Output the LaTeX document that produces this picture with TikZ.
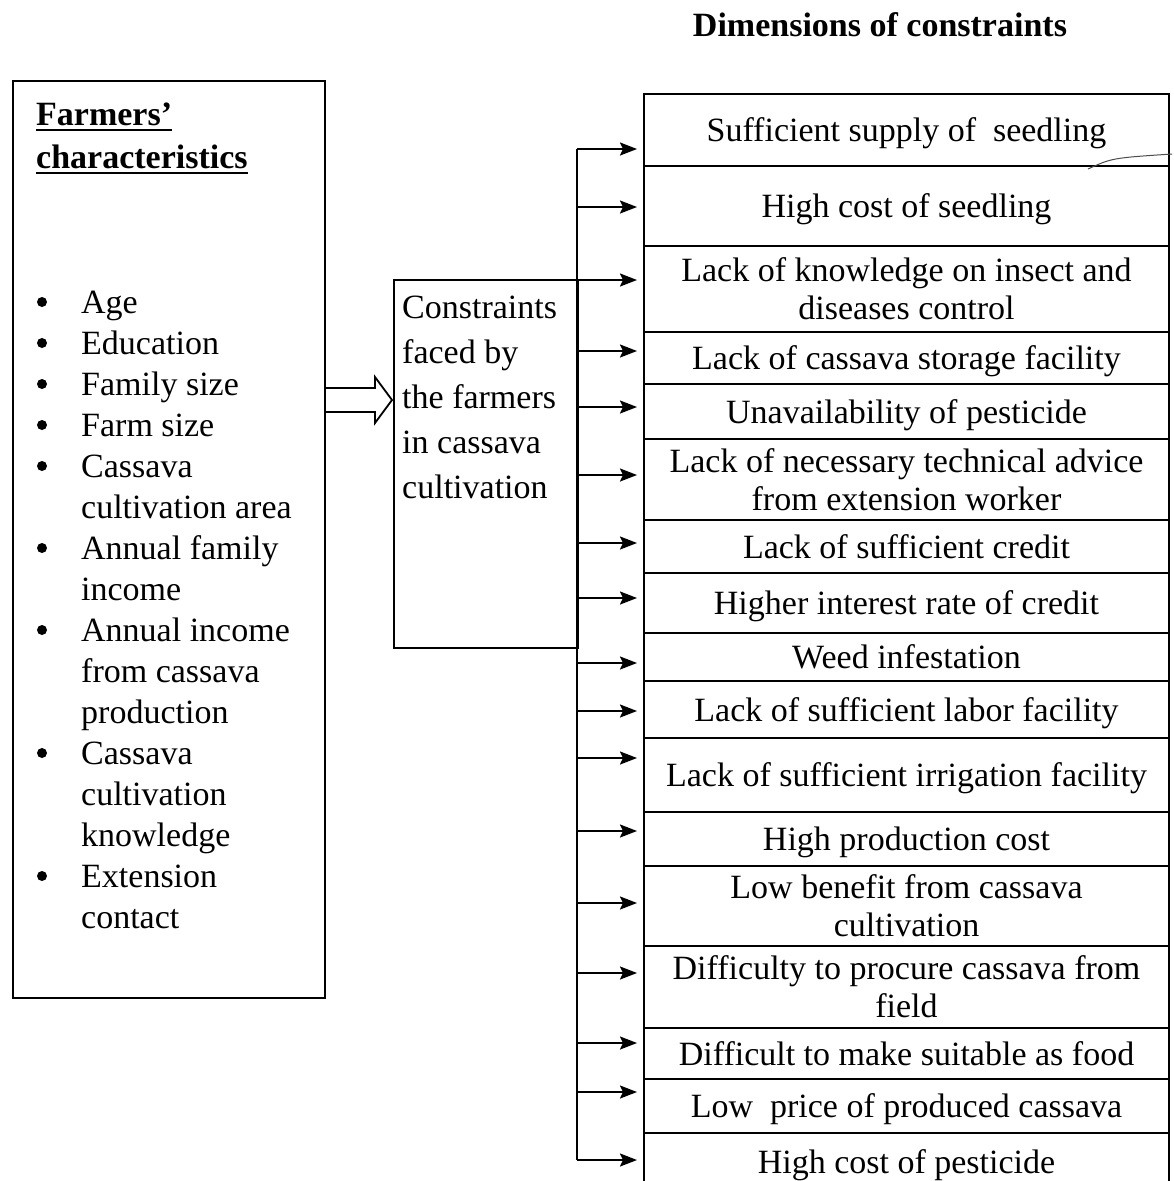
\documentclass[tikz,border=0pt]{standalone}
\usepackage{fontspec}
\setmainfont{Liberation Serif}
\usetikzlibrary{arrows.meta}
\begin{document}
\begin{tikzpicture}[x=1pt,y=-1pt,
  txt/.style={font=\fontsize{34}{38}\selectfont},
  bold/.style={font=\fontsize{34}{38}\selectfont\bfseries},
  box/.style={draw,line width=2pt,inner sep=0pt},
  rowbox/.style={draw,line width=2pt,anchor=north west,minimum width=525pt,align=center,inner sep=0pt,text depth=0pt,txt},
  conn/.style={line width=2pt},
  arr/.style={line width=2pt,shorten >=6pt,-{Stealth[length=17pt,width=13pt,inset=3pt]}},
  lbl/.style={anchor=base west,inner sep=0pt,txt},
  dot/.style={circle,fill=black,inner sep=0pt,minimum size=10pt},
]
\useasboundingbox (0,0) rectangle (1173,1181);
\fill[white] (0,0) rectangle (1173,1181);

% title
\node[anchor=base,inner sep=0pt,bold] (title) at (880,36) {Dimensions of constraints};

% left box
\node[box,anchor=north west,minimum width=312pt,minimum height=917pt] (lbox) at (12,80) {};
\node[anchor=base west,inner sep=0pt,bold] (f1) at (36,125) {Farmers’};
\node[anchor=base west,inner sep=0pt,bold] (f2) at (36,168) {characteristics};
\draw[line width=2.2pt] ([yshift=-5pt]f1.base west) -- ([yshift=-5pt]f1.base east);
\draw[line width=2.2pt] ([yshift=-5pt]f2.base west) -- ([yshift=-5pt]f2.base east);
\foreach \t/\b [count=\i from 0] in {Age/1, Education/1, Family size/1, Farm size/1, Cassava/1, cultivation area/0, Annual family/1, income/0, Annual income/1, from cassava/0, production/0, Cassava/1, cultivation/0, knowledge/0, Extension/1, contact/0} {
  \node[lbl] (L\i) at (81,{313+41*\i}) {\t};
  \ifnum\b=1 \node[dot] (B\i) at (42,{302+41*\i}) {};\fi
}

% middle box
\node[box,anchor=north west,minimum width=184pt,minimum height=368pt] (mid) at (393,279) {};
\foreach \t [count=\i from 0] in {Constraints, faced by, the farmers, in cassava, cultivation} {
  \node[lbl] (M\i) at (402,{318+45*\i}) {\t};
}

% hollow arrow
\coordinate (hA) at (324,400);
\coordinate (hB) at (392,400);
\draw[line width=1.8pt,line join=miter] ([yshift=12pt]hA) -- ([xshift=-17pt,yshift=12pt]hB) -- ([xshift=-17pt,yshift=23pt]hB) -- (hB) -- ([xshift=-17pt,yshift=-23pt]hB) -- ([xshift=-17pt,yshift=-12pt]hB) -- ([yshift=-12pt]hA);

% right column
\node[rowbox,minimum height=72pt] (r1) at (643,93) {Sufficient supply of\ \ seedling};
\node[rowbox,minimum height=80pt] (r2) at (643,165) {High cost of seedling};
\node[rowbox,minimum height=86pt] (r3) at (643,245) {Lack of knowledge on insect and\\diseases control};
\node[rowbox,minimum height=52pt] (r4) at (643,331) {Lack of cassava storage facility};
\node[rowbox,minimum height=55pt] (r5) at (643,383) {Unavailability of pesticide};
\node[rowbox,minimum height=81pt] (r6) at (643,438) {Lack of necessary technical advice\\from extension worker};
\node[rowbox,minimum height=53pt] (r7) at (643,519) {Lack of sufficient credit};
\node[rowbox,minimum height=60pt] (r8) at (643,572) {Higher interest rate of credit};
\node[rowbox,minimum height=48pt] (r9) at (643,632) {Weed infestation};
\node[rowbox,minimum height=57pt] (r10) at (643,680) {Lack of sufficient labor facility};
\node[rowbox,minimum height=74pt] (r11) at (643,737) {Lack of sufficient irrigation facility};
\node[rowbox,minimum height=54pt] (r12) at (643,811) {High production cost};
\node[rowbox,minimum height=80pt] (r13) at (643,865) {Low benefit from cassava\\cultivation};
\node[rowbox,minimum height=82pt] (r14) at (643,945) {Difficulty to procure cassava from\\field};
\node[rowbox,minimum height=51pt] (r15) at (643,1027) {Difficult to make suitable as food};
\node[rowbox,minimum height=54pt] (r16) at (643,1078) {Low\ \ price of produced cassava};
\node[rowbox,minimum height=58pt] (r17) at (643,1132) {High cost of pesticide};

% stray pen mark
\draw[line width=1pt,black!70] (1088,169) .. controls (1112,158) .. (1172,154);

% connectors
\foreach \y [count=\i] in {149,207,280,351,407,475,543,598,663,711,758,831,903,973,1043,1092,1160} {
  \coordinate (a\i) at (577,\y);
}
\draw[conn] (a1) -- (a17);
\foreach \i in {1,...,17} {
  \draw[arr] (a\i) -- (a\i -| r\i.west);
}
\end{tikzpicture}
\end{document}
